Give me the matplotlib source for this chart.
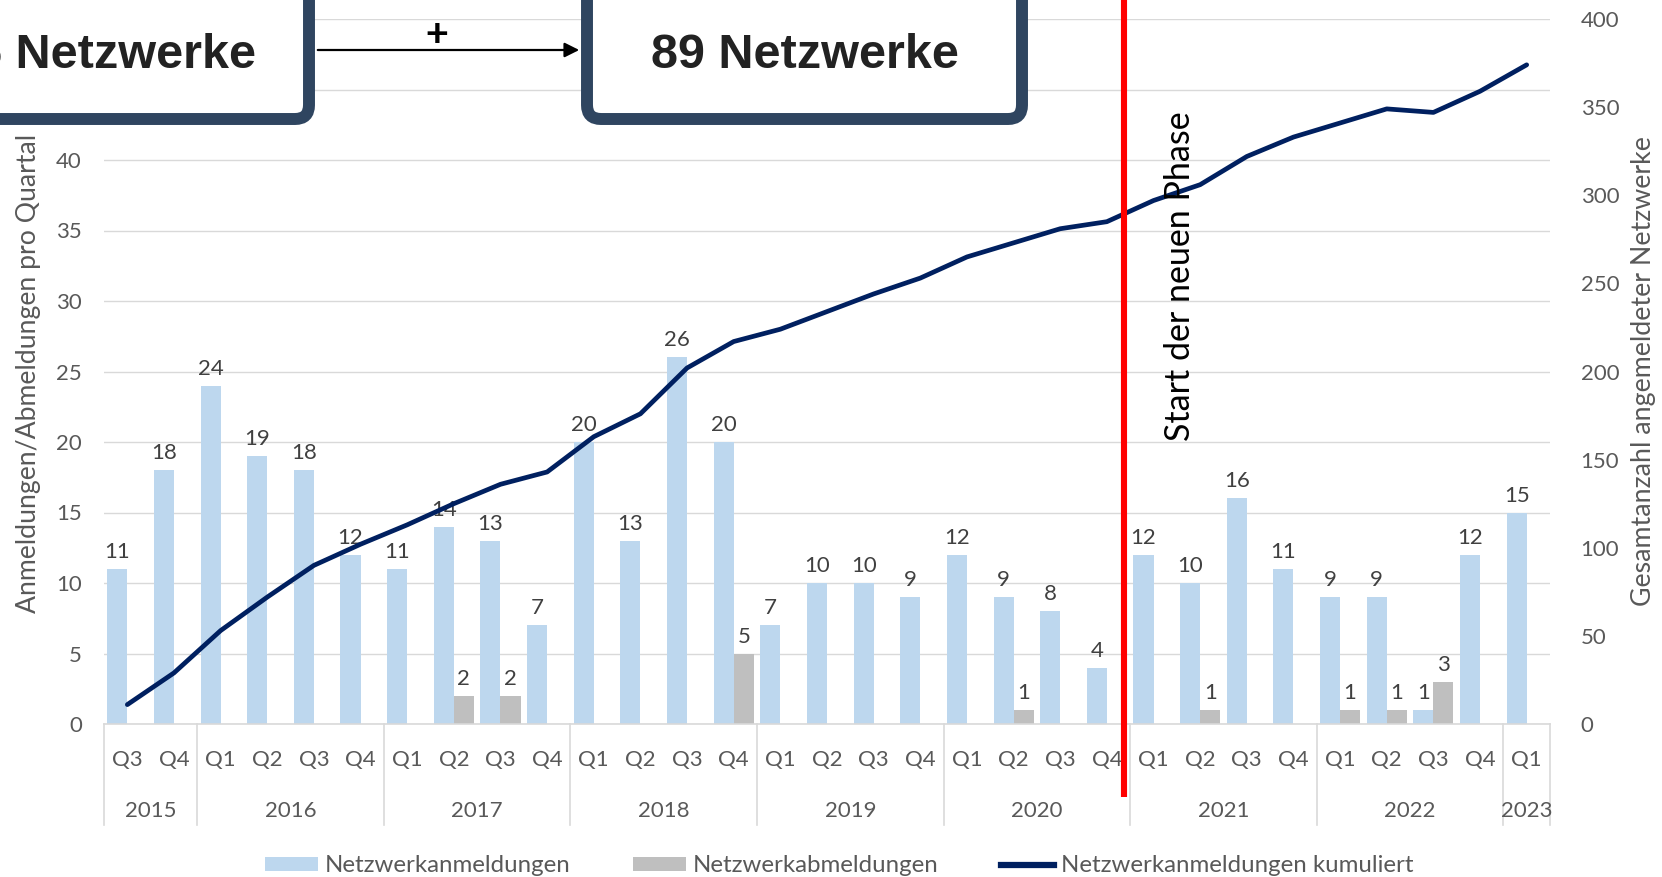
import numpy as np
import matplotlib
matplotlib.use("Agg")
import matplotlib.pyplot as plt
from matplotlib.patches import FancyBboxPatch, FancyArrowPatch, Patch
from matplotlib.lines import Line2D
from matplotlib.transforms import IdentityTransform, blended_transform_factory

# ---------------- data ----------------
quarters = ["Q3", "Q4",
            "Q1", "Q2", "Q3", "Q4",
            "Q1", "Q2", "Q3", "Q4",
            "Q1", "Q2", "Q3", "Q4",
            "Q1", "Q2", "Q3", "Q4",
            "Q1", "Q2", "Q3", "Q4",
            "Q1", "Q2", "Q3", "Q4",
            "Q1", "Q2", "Q3", "Q4",
            "Q1"]
years = ["2015", "2016", "2017", "2018", "2019", "2020", "2021", "2022", "2023"]
quarters_per_year = [2, 4, 4, 4, 4, 4, 4, 4, 1]

anmeldungen = [11, 18,
               24, 19, 18, 12,
               11, 14, 13, 7,
               20, 13, 26, 20,
               7, 10, 10, 9,
               12, 9, 8, 4,
               12, 10, 16, 11,
               9, 9, 1, 12,
               15]
abmeldungen = [0, 0,
               0, 0, 0, 0,
               0, 2, 2, 0,
               0, 0, 0, 5,
               0, 0, 0, 0,
               0, 1, 0, 0,
               0, 1, 0, 0,
               1, 1, 3, 0,
               0]
kumuliert = [11, 29,
             53, 72, 90, 102,
             113, 125, 136, 143,
             163, 176, 202, 217,
             224, 234, 244, 253,
             265, 273, 281, 285,
             297, 306, 322, 333,
             341, 349, 347, 359,
             374]

box_left_text = "285 Netzwerke"
box_right_text = "89 Netzwerke"
phase_text = "Start der neuen Phase"
phase_pos = 21.37  # between 2020 Q4 and 2021 Q1

# ---------------- style ----------------
W, H = 1662, 877
FONT = "Lato"
BLUE = "#BDD7EE"
GRAY = "#BFBFBF"
NAVY = "#002060"
TICK = "#595959"
LAB = "#404040"
GRID = "#D9D9D9"
BOXC = "#2F4560"

fig = plt.figure(figsize=(W / 100, H / 100), dpi=100)
ax_l, ax_r, ax_t, ax_b = 104, 1550, 19, 724
ax = fig.add_axes([ax_l / W, 1 - ax_b / H, (ax_r - ax_l) / W, (ax_b - ax_t) / H])
ax2 = ax.twinx()

n = len(quarters)
x = np.arange(n)
bw = 0.43

ax.bar(x - bw / 2, anmeldungen, width=bw, color=BLUE, zorder=2)
ab = np.array(abmeldungen)
mask = ab > 0
ax.bar(x[mask] + bw / 2, ab[mask], width=bw, color=GRAY, zorder=2)

for xi, v in zip(x, anmeldungen):
    ax.annotate(str(v), (xi - bw / 2, v), xytext=(0, 5), textcoords="offset points",
                ha="center", va="bottom", fontsize=16, color=LAB, family=FONT, zorder=3)
for xi, v in zip(x[mask], ab[mask]):
    ax.annotate(str(v), (xi + bw / 2, v), xytext=(0, 5), textcoords="offset points",
                ha="center", va="bottom", fontsize=16, color=LAB, family=FONT, zorder=3)

ax.set_xlim(-0.5, n - 0.5)
ax.set_ylim(0, 50)
ax.set_yticks(np.arange(0, 51, 5))
ax.grid(axis="y", color=GRID, lw=1.0, zorder=0)
ax.set_axisbelow(True)
ax.set_xticks([])
for s in ["top", "left", "right"]:
    ax.spines[s].set_visible(False)
    ax2.spines[s].set_visible(False)
ax.spines["bottom"].set_color(GRID)
ax.spines["bottom"].set_linewidth(1.2)
ax2.spines["bottom"].set_visible(False)
ax.tick_params(axis="y", length=0, pad=16, labelsize=16, labelcolor=TICK)
for t in ax.get_yticklabels():
    t.set_family(FONT)

ax2.plot(x, kumuliert, color=NAVY, lw=3.4, solid_capstyle="round",
         solid_joinstyle="round", zorder=4)
ax2.set_ylim(0, 400)
ax2.set_yticks(np.arange(0, 401, 50))
ax2.tick_params(axis="y", length=0, pad=22, labelsize=16, labelcolor=TICK)
for t in ax2.get_yticklabels():
    t.set_family(FONT)

# category axis (two levels)
trans = blended_transform_factory(ax.transData, ax.transAxes)
h_ax = ax_b - ax_t
y_q = -(760 - ax_b) / h_ax
y_y = -(811 - ax_b) / h_ax
y_sep = -(825 - ax_b) / h_ax
for xi, q in zip(x, quarters):
    ax.text(xi, y_q, q, transform=trans, ha="center", va="center",
            fontsize=16, color=TICK, family=FONT)
start = 0
bounds = [-0.5]
for yr, cnt in zip(years, quarters_per_year):
    center = start + (cnt - 1) / 2
    ax.text(center, y_y, yr, transform=trans, ha="center", va="center",
            fontsize=16, color=TICK, family=FONT)
    start += cnt
    bounds.append(start - 0.5)
for b in bounds:
    ax.plot([b, b], [0, y_sep], transform=trans, color=GRID, lw=1.2, clip_on=False)

# red phase line
trans2 = blended_transform_factory(ax2.transData, ax2.transAxes)
ax2.plot([phase_pos, phase_pos], [1 + ax_t / h_ax + 0.01, -(797 - ax_b) / h_ax],
         transform=trans2, color="#FF0000", lw=4.4, clip_on=False, zorder=6,
         solid_capstyle="butt")
fig.text(1180 / W, 1 - 276 / H, phase_text, rotation=90, ha="center", va="center",
         fontsize=24.5, color="black", family=FONT)

# axis titles
fig.text(29 / W, 1 - 373 / H, "Anmeldungen/Abmeldungen pro Quartal", rotation=90,
         ha="center", va="center", fontsize=19.2, color=TICK, family=FONT)
fig.text(1643 / W, 1 - 371 / H, "Gesamtanzahl angemeldeter Netzwerke", rotation=90,
         ha="center", va="center", fontsize=19.3, color=TICK, family=FONT)

# boxes at the top (display pixels, origin bottom-left)
def box(x0, x1, ytop, ybot):
    p = FancyBboxPatch((x0, H - ybot), x1 - x0, ybot - ytop,
                       boxstyle="round,pad=0,rounding_size=14",
                       transform=IdentityTransform(), facecolor="white",
                       edgecolor=BOXC, linewidth=8.6, zorder=10)
    fig.add_artist(p)

box(-60, 309, -60, 119)
box(587, 1022, -60, 119)
fig.text(256 / W, 1 - 56 / H, box_left_text, ha="right", va="center", fontsize=35,
         fontweight="bold", family="Liberation Sans", color="#222222", zorder=11)
fig.text(805 / W, 1 - 56 / H, box_right_text, ha="center", va="center", fontsize=35,
         fontweight="bold", family="Liberation Sans", color="#222222", zorder=11)
arr = FancyArrowPatch((315, H - 50), (582, H - 50), transform=IdentityTransform(),
                      arrowstyle="-|>", mutation_scale=22, lw=1.6, color="black", zorder=9)
fig.add_artist(arr)
fig.text(437 / W, 1 - 36 / H, "+", ha="center", va="center", fontsize=28,
         fontweight="bold", family="Liberation Sans", color="black", zorder=11)

# legend
handles = [Patch(facecolor=BLUE, edgecolor="none"),
           Patch(facecolor=GRAY, edgecolor="none"),
           Line2D([0], [0], color=NAVY, lw=4.5)]
labels = ["Netzwerkanmeldungen", "Netzwerkabmeldungen", "Netzwerkanmeldungen kumuliert"]
leg = fig.legend(handles, labels, loc="center", bbox_to_anchor=(0.505, 1 - 866 / H),
                 ncol=3, frameon=False, handlelength=2.2, handleheight=0.55,
                 handletextpad=0.3, columnspacing=2.6,
                 prop={"family": FONT, "size": 17.3})
for t in leg.get_texts():
    t.set_color(TICK)

fig.savefig("out.png", dpi=100)
